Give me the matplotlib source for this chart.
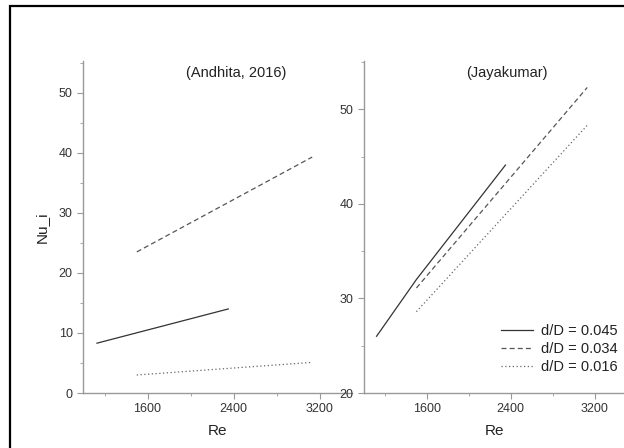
import numpy as np
import matplotlib.pyplot as plt
from matplotlib.patches import Rectangle
from matplotlib.ticker import MultipleLocator

plt.rcParams['font.family'] = ['Liberation Sans', 'DejaVu Sans']

labels = ['d/D = 0.045', 'd/D = 0.034', 'd/D = 0.016']
styles = ['-', (0, (4, 2.5)), (0, (1, 2))]
colors = ['#333333', '#555555', '#666666']

# (Andhita, 2016)
and_re = [[1130, 2350], [1500, 3130], [1500, 3130]]
and_nu = [[8.3, 14.0], [23.5, 39.3], [3.0, 5.1]]

# (Jayakumar)
jay_re = [[1120, 1500, 2350], [1500, 3130], [1500, 3130]]
jay_nu = [[26.0, 32.0, 44.1], [31.1, 52.3], [28.6, 48.3]]

fig = plt.figure(figsize=(6.24, 4.48), dpi=100)
ax1 = fig.add_axes([83/624, 1 - 393/448, 269/624, 332/448])
ax2 = fig.add_axes([364/624, 1 - 393/448, 262/624, 332/448])

axcol = '#999999'
for ax in (ax1, ax2):
    for s in ('top', 'right'):
        ax.spines[s].set_visible(False)
    for s in ('left', 'bottom'):
        ax.spines[s].set_color(axcol)
        ax.spines[s].set_linewidth(1.0)
    ax.set_xlim(1000, 3500)
    ax.xaxis.set_major_locator(MultipleLocator(800))
    ax.xaxis.set_minor_locator(MultipleLocator(400))
    ax.set_xticks([1600, 2400, 3200])
    ax.tick_params(which='both', colors=axcol, labelcolor='#333333', labelsize=9, direction='out')
    ax.tick_params(which='major', length=4)
    ax.tick_params(which='minor', length=2.5)
    ax.set_xlabel('Re', fontsize=11, color='#222222', labelpad=6)

ax1.set_ylim(0, 55.3)
ax1.yaxis.set_major_locator(MultipleLocator(10))
ax1.yaxis.set_minor_locator(MultipleLocator(5))
ax1.set_ylabel('Nu_i', fontsize=11, color='#222222', labelpad=7)

ax2.set_ylim(20, 55.1)
ax2.yaxis.set_major_locator(MultipleLocator(10))
ax2.yaxis.set_minor_locator(MultipleLocator(5))

for i in range(3):
    ax1.plot(and_re[i], and_nu[i], linestyle=styles[i], color=colors[i], lw=0.9)
    ax2.plot(jay_re[i], jay_nu[i], linestyle=styles[i], color=colors[i], lw=0.9, label=labels[i])

ax1.text(0.57, 0.985, '(Andhita, 2016)', transform=ax1.transAxes, ha='center', va='top',
         fontsize=10.5, color='#222222')
ax2.text(0.547, 0.985, '(Jayakumar)', transform=ax2.transAxes, ha='center', va='top',
         fontsize=10.5, color='#222222')

ax2.legend(loc='lower right', bbox_to_anchor=(1.02, 0.018), frameon=False, fontsize=10.5,
           handlelength=2.2, handletextpad=0.55, labelspacing=0.28, labelcolor='#222222')

fig.patches.append(Rectangle((10/624, -0.05), 1.1, 1 - 6/448 + 0.05, transform=fig.transFigure,
                             fill=False, edgecolor='black', lw=1.6))

fig.savefig('out.png', dpi=100)
